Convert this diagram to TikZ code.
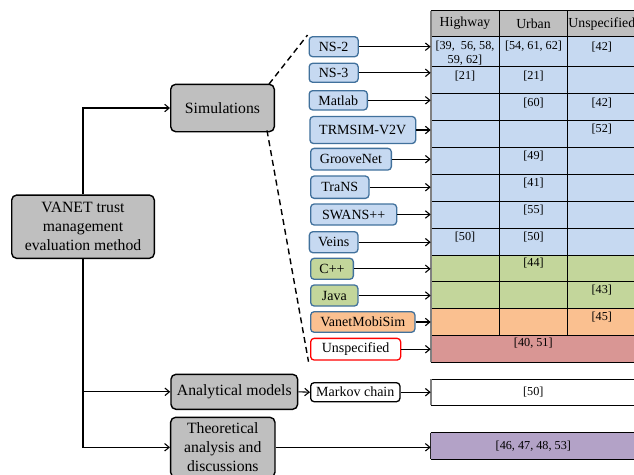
\documentclass[tikz,border=0pt]{standalone}
\usepackage{fontspec}
\setmainfont{Liberation Serif}
\usetikzlibrary{arrows.meta,calc}
\definecolor{cblue}{RGB}{198,217,241}
\definecolor{cgreen}{RGB}{195,214,155}
\definecolor{corange}{RGB}{250,192,144}
\definecolor{cred}{RGB}{217,150,148}
\definecolor{cpurple}{RGB}{179,162,199}
\definecolor{cgray}{RGB}{191,191,191}
\definecolor{bblue}{RGB}{65,113,156}
\definecolor{edgegray}{RGB}{128,128,128}
\begin{document}
\begin{tikzpicture}[x=1pt,y=-1pt,
  gbox/.style={draw=black, line width=1.4pt, fill=cgray, rounded corners=5pt, align=center,
    font=\fontsize{15.7}{19}\selectfont, inner sep=1pt},
  sbox/.style={draw=bblue, line width=1.3pt, rounded corners=3.5pt,
    font=\fontsize{14}{16}\selectfont, inner sep=1pt, anchor=west},
  cellrow/.style={draw=none, inner sep=0pt, anchor=north west, minimum width=205.3pt},
  ctext/.style={font=\fontsize{12.2}{13.3}\selectfont, inner sep=0pt, align=center},
  htext/.style={font=\fontsize{13.8}{15}\selectfont, inner sep=0pt},
  arr/.style={-{Straight Barb[length=4.5pt,width=7.5pt]}, line width=1.1pt},
  grid/.style={line width=0.9pt, black},
  dashline/.style={dashed, dash pattern=on 6pt off 4pt, line width=1.4pt}
]
\clip (0,0) rectangle (634,474);

% ---------- table rows ----------
\node[cellrow, fill=cgray,   minimum height=26pt]   (hd)  at (430.7,10.7)  {};
\node[cellrow, fill=cblue,   minimum height=30pt]   (r1)  at (430.7,36.7)  {};
\node[cellrow, fill=cblue,   minimum height=26.6pt] (r2)  at (430.7,66.7)  {};
\node[cellrow, fill=cblue,   minimum height=27.4pt] (r3)  at (430.7,93.3)  {};
\node[cellrow, fill=cblue,   minimum height=26.6pt] (r4)  at (430.7,120.7) {};
\node[cellrow, fill=cblue,   minimum height=26.7pt] (r5)  at (430.7,147.3) {};
\node[cellrow, fill=cblue,   minimum height=27pt]   (r6)  at (430.7,174)   {};
\node[cellrow, fill=cblue,   minimum height=27.3pt] (r7)  at (430.7,201)   {};
\node[cellrow, fill=cblue,   minimum height=26.7pt] (r8)  at (430.7,228.3) {};
\node[cellrow, fill=cgreen,  minimum height=26.7pt] (r9)  at (430.7,255)   {};
\node[cellrow, fill=cgreen,  minimum height=26.6pt] (r10) at (430.7,281.7) {};
\node[cellrow, fill=corange, minimum height=26.7pt] (r11) at (430.7,308.3) {};
\node[cellrow, fill=cred,    minimum height=27.3pt] (r12) at (430.7,335)   {};
\node[cellrow, fill=white,   minimum height=26.3pt] (rm)  at (430.7,379)   {};
\node[cellrow, fill=cpurple, minimum height=26.6pt] (rp)  at (430.7,432.7) {};

% grid lines
\foreach \yy in {10.7,36.7,66.7,93.3,120.7,147.3,174,201,228.3,255,281.7,308.3,335,362.3,379,405.3,432.7,459.3}
  \draw[grid] (430.7,\yy) -- (640,\yy);
\foreach \xx in {499.3,567.7}
  \draw[grid] (\xx,10.7) -- (\xx,335);
\draw[line width=1.6pt, edgegray] (430.7,10.7) -- (430.7,362.3);
\draw[line width=1.6pt, edgegray] (430.7,379) -- (430.7,405.3);
\draw[line width=1.2pt, black!85] (430.7,432.7) -- (430.7,459.3);

% header text
\node[htext] (h1) at (465,23.7)   {Highway};
\node[htext] (h2) at (533.5,23.7) {Urban};
\node[htext] (h3) at (601.8,23.7) {Unspecified};

% cell texts
\node[ctext] (c1a) at (465,53.3)    {[39,\ \ 56, 58,\\ 59, 62]};
\node[ctext] (c1b) at (533.5,46.7)  {[54, 61, 62]};
\node[ctext] (c1c) at (601.8,46.7)  {[42]};
\node[ctext] (c2a) at (465,76.2)    {[21]};
\node[ctext] (c2b) at (533.5,76.2)  {[21]};
\node[ctext] (c3b) at (533.5,103)   {[60]};
\node[ctext] (c3c) at (601.8,103)   {[42]};
\node[ctext] (c4c) at (601.8,129.5) {[52]};
\node[ctext] (c5b) at (533.5,156)   {[49]};
\node[ctext] (c6b) at (533.5,183.3) {[41]};
\node[ctext] (c7b) at (533.5,210)   {[55]};
\node[ctext] (c8a) at (465,237.3)   {[50]};
\node[ctext] (c8b) at (533.5,237.3) {[50]};
\node[ctext] (c9b) at (533.5,263.5) {[44]};
\node[ctext] (c10c) at (601.8,290)  {[43]};
\node[ctext] (c11c) at (601.8,316.7) {[45]};
\node[ctext] (c12) at (533.3,343.5) {[40, 51]};
\node[ctext] (cm)  at (533.3,392.2) {[50]};
\node[ctext] (cp)  at (533.3,446)   {[46, 47, 48, 53]};

% ---------- gray boxes ----------
\node[gbox, minimum width=142.6pt, minimum height=63.3pt] (vanet) at (83,226.7)
  {VANET trust\\management\\evaluation method};
\node[gbox, minimum width=103.6pt, minimum height=47.4pt] (sim) at (222.5,108) {Simulations};
\node[gbox, minimum width=126.7pt, minimum height=35pt] (anal) at (234.3,391.8) {Analytical models};
\node[gbox, minimum width=104.3pt, minimum height=60pt] (theo) at (222.8,447.3)
  {Theoretical\\analysis and\\discussions};

% ---------- tool boxes ----------
\node[sbox, fill=cblue, minimum width=49pt,    minimum height=20pt]   (ns2)   at (308.5,46.7)  {NS-2};
\node[sbox, fill=cblue, minimum width=49pt,    minimum height=19pt]   (ns3)   at (308.5,72.8)  {NS-3};
\node[sbox, fill=cblue, minimum width=58.2pt,  minimum height=19.3pt] (matlab) at (308.5,100.3) {Matlab};
\node[sbox, fill=cblue, minimum width=105.7pt, minimum height=27pt]   (trm)   at (309.3,130)   {TRMSIM-V2V};
\node[sbox, fill=cblue, minimum width=80.7pt,  minimum height=21.7pt] (groove) at (310,159.2)  {GrooveNet};
\node[sbox, fill=cblue, minimum width=58.3pt,  minimum height=22.3pt] (trans) at (310,187.2)   {TraNS};
\node[sbox, fill=cblue, minimum width=86pt,    minimum height=21pt]   (swans) at (310,214.5)   {SWANS++};
\node[sbox, fill=cblue, minimum width=48.6pt,  minimum height=21pt]   (veins) at (308.7,242.2) {Veins};
\node[sbox, fill=cgreen, minimum width=42.7pt, minimum height=21pt]   (cpp)   at (310,268.8)   {C++};
\node[sbox, fill=cgreen, minimum width=47.3pt, minimum height=21pt]   (java)  at (310,295.5)   {Java};
\node[sbox, fill=corange, minimum width=104.3pt, minimum height=20.6pt] (vms) at (310,322)     {VanetMobiSim};
\node[sbox, draw=red, fill=white, minimum width=90pt, minimum height=21.7pt] (unsp) at (310,349.2) {Unspecified};
\node[sbox, draw=black, fill=white, minimum width=89.3pt, minimum height=19pt] (markov) at (310,392.2) {Markov chain};

% ---------- connectors ----------
\draw[arr] (vanet.north) |- (sim.west);
\draw[arr] (vanet.south) |- (anal.west);
\draw[arr] (vanet.south) |- (theo.west);
\draw[arr] (anal.east) -- (markov.west);
\draw[arr] (theo.east) -- (theo.east -| rp.west);
\draw[arr] (markov.east) -- (markov.east -| rm.west);
\foreach \b/\r in {ns2/r1, ns3/r2, matlab/r3, trm/r4, groove/r5, trans/r6, swans/r7, veins/r8, cpp/r9, java/r10, vms/r11, unsp/r12}
  \draw[arr] (\b.east) -- (\b.east -| \r.west);

\draw[dashline] ($(sim.north east)+(-6,0.5)$) -- ($(ns2.north west)+(-1,-1)$);
\draw[dashline] ($(sim.south east)+(-8,-2)$) -- ($(unsp.south west)+(-1.5,1)$);
\end{tikzpicture}
\end{document}
